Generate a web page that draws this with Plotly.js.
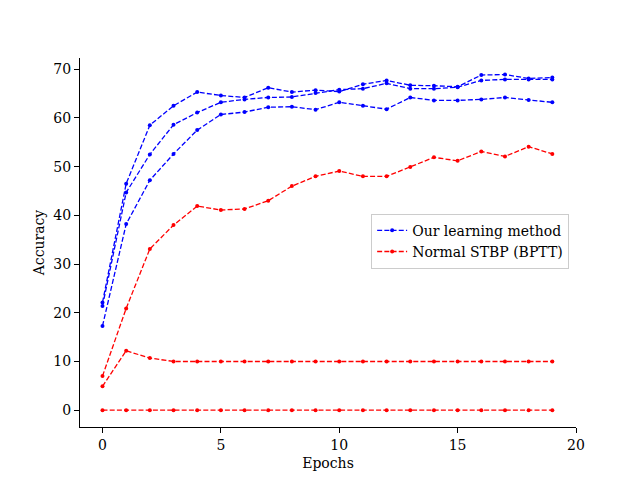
<!DOCTYPE html>
<html>
<head>
<meta charset="utf-8">
<script src="https://cdn.plot.ly/plotly-3.0.1.min.js"></script>
<style>
  html, body { margin: 0; padding: 0; background: #fff; }
  #chart { width: 640px; height: 480px; }
</style>
</head>
<body>
<div id="chart"></div>
<script>
var epochs = [0, 1, 2, 3, 4, 5, 6, 7, 8, 9, 10, 11, 12, 13, 14, 15, 16, 17, 18, 19];

// our learning method, three runs
var oursRun1 = [22.1, 46.5, 58.5, 62.5, 65.3, 64.6, 64.2, 66.2, 65.3, 65.7, 65.4, 66.9, 67.7, 66.7, 66.6, 66.4, 68.8, 68.9, 68.1, 68.3];
var oursRun2 = [21.4, 44.7, 52.5, 58.6, 61.1, 63.2, 63.8, 64.2, 64.3, 65.1, 65.8, 66.0, 67.1, 66.0, 66.0, 66.3, 67.7, 67.9, 67.9, 67.9];
var oursRun3 = [17.3, 38.2, 47.2, 52.6, 57.5, 60.7, 61.2, 62.2, 62.3, 61.7, 63.2, 62.5, 61.8, 64.2, 63.6, 63.6, 63.8, 64.2, 63.7, 63.2];

// normal STBP (BPTT), three runs
var stbpRun1 = [7.0, 20.9, 33.1, 38.0, 41.9, 41.1, 41.3, 43.0, 46.0, 48.0, 49.1, 48.0, 48.0, 49.9, 51.9, 51.2, 53.1, 52.1, 54.1, 52.6];
var stbpRun2 = [4.9, 12.2, 10.7, 10.0, 10.0, 10.0, 10.0, 10.0, 10.0, 10.0, 10.0, 10.0, 10.0, 10.0, 10.0, 10.0, 10.0, 10.0, 10.0, 10.0];
var stbpRun3 = [0, 0, 0, 0, 0, 0, 0, 0, 0, 0, 0, 0, 0, 0, 0, 0, 0, 0, 0, 0];

var xTicks = [0, 5, 10, 15, 20];
var yTicks = [0, 10, 20, 30, 40, 50, 60, 70];

var serif = 'DejaVu Serif, Liberation Serif, serif';

function run(y, color, name, show) {
    return {
        x: epochs,
        y: y,
        type: 'scatter',
        mode: 'lines+markers',
        name: name,
        legendgroup: name,
        showlegend: show,
        line: { color: color, width: 1.3, dash: '5px,2.2px' },
        marker: { color: color, size: 4 }
    };
}

var traces = [
    run(oursRun1, 'blue', 'Our learning method', true),
    run(oursRun2, 'blue', 'Our learning method', false),
    run(oursRun3, 'blue', 'Our learning method', false),
    run(stbpRun1, 'red', 'Normal STBP (BPTT)', true),
    run(stbpRun2, 'red', 'Normal STBP (BPTT)', false),
    run(stbpRun3, 'red', 'Normal STBP (BPTT)', false)
];

var layout = {
    width: 640,
    height: 480,
    margin: { l: 80, r: 64, t: 58, b: 53 },
    paper_bgcolor: '#fff',
    plot_bgcolor: '#fff',
    font: { family: serif, size: 14, color: '#000' },
    showlegend: true,
    legend: {
        x: 0.587, y: 0.578, xanchor: 'left', yanchor: 'top',
        bgcolor: 'rgba(255,255,255,0.8)',
        bordercolor: '#cccccc', borderwidth: 1,
        font: { family: serif, size: 14 },
        tracegroupgap: 0
    },
    xaxis: {
        range: [-0.95, 20],
        tickvals: xTicks,
        ticks: 'outside', ticklen: 5, tickwidth: 1, tickcolor: '#000',
        showgrid: false, zeroline: false,
        showline: true, linecolor: '#000', linewidth: 1,
        title: { text: 'Epochs', font: { family: serif, size: 14 }, standoff: 6 }
    },
    yaxis: {
        range: [-3.45, 72.3],
        tickvals: yTicks,
        ticks: 'outside', ticklen: 5, tickwidth: 1, tickcolor: '#000',
        showgrid: false, zeroline: false,
        showline: true, linecolor: '#000', linewidth: 1,
        title: { text: 'Accuracy', font: { family: serif, size: 14 }, standoff: 5 }
    }
};

Plotly.newPlot('chart', traces, layout, { displayModeBar: false, staticPlot: true });
</script>
</body>
</html>
